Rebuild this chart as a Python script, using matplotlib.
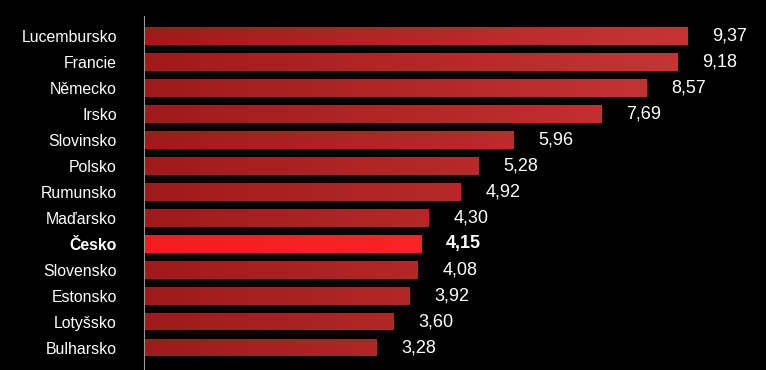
import numpy as np
import matplotlib
matplotlib.use("Agg")
import matplotlib.pyplot as plt
from matplotlib.colors import LinearSegmentedColormap

plt.rcParams["font.family"] = ["Liberation Sans", "DejaVu Sans"]

# data
countries = ["Lucembursko", "Francie", "Německo", "Irsko", "Slovinsko", "Polsko",
             "Rumunsko", "Maďarsko", "Česko", "Slovensko", "Estonsko", "Lotyšsko",
             "Bulharsko"]
values = [9.37, 9.18, 8.57, 7.69, 5.96, 5.28, 4.92, 4.30, 4.15, 4.08, 3.92, 3.60, 3.28]
highlight = "Česko"

base = -1.29          # bars start at the axis line
xmax = 10.92

fig = plt.figure(figsize=(7.66, 3.70), dpi=100, facecolor="#000000")
ax = fig.add_axes([144 / 766, 0, 1 - 144 / 766, 1 - 16 / 370])
ax.set_facecolor("#000000")

y = np.arange(len(countries))
grad_red = LinearSegmentedColormap.from_list("r", ["#a01a1a", "#c83434"])
grad_hi = LinearSegmentedColormap.from_list("h", ["#f51c1f", "#ff2a2a"])
g = np.linspace(0, 1, 256).reshape(1, -1)

for i, (c, v) in enumerate(zip(countries, values)):
    hi = c == highlight
    bar = ax.barh(i, v - base, left=base, height=0.66,
                  color="#ff2020" if hi else "#b02626", linewidth=0)[0]
    im = ax.imshow(g, cmap=grad_hi if hi else grad_red, aspect="auto",
                   extent=[base, 9.37, i + 0.33, i - 0.33], zorder=2)
    im.set_clip_path(bar)
    ax.annotate(f"{v:.2f}".replace(".", ","), (v, i), xytext=(18, 0),
                textcoords="offset points", va="center", ha="left",
                color="white", fontsize=13,
                fontweight="bold" if hi else "normal")

ax.set_xlim(base, xmax)
ax.set_ylim(12.85, -0.77)
ax.set_yticks(y)
ax.set_yticklabels(countries, fontsize=11.4, color="white")
for lab in ax.get_yticklabels():
    if lab.get_text() == highlight:
        lab.set_fontweight("bold")
ax.tick_params(axis="y", length=0, pad=19.5)
ax.set_xticks([])
for s in ["top", "right", "bottom"]:
    ax.spines[s].set_visible(False)
ax.spines["left"].set_color("#9a9a9a")
ax.spines["left"].set_linewidth(0.8)

fig.savefig("out.png", dpi=100, facecolor=fig.get_facecolor())
